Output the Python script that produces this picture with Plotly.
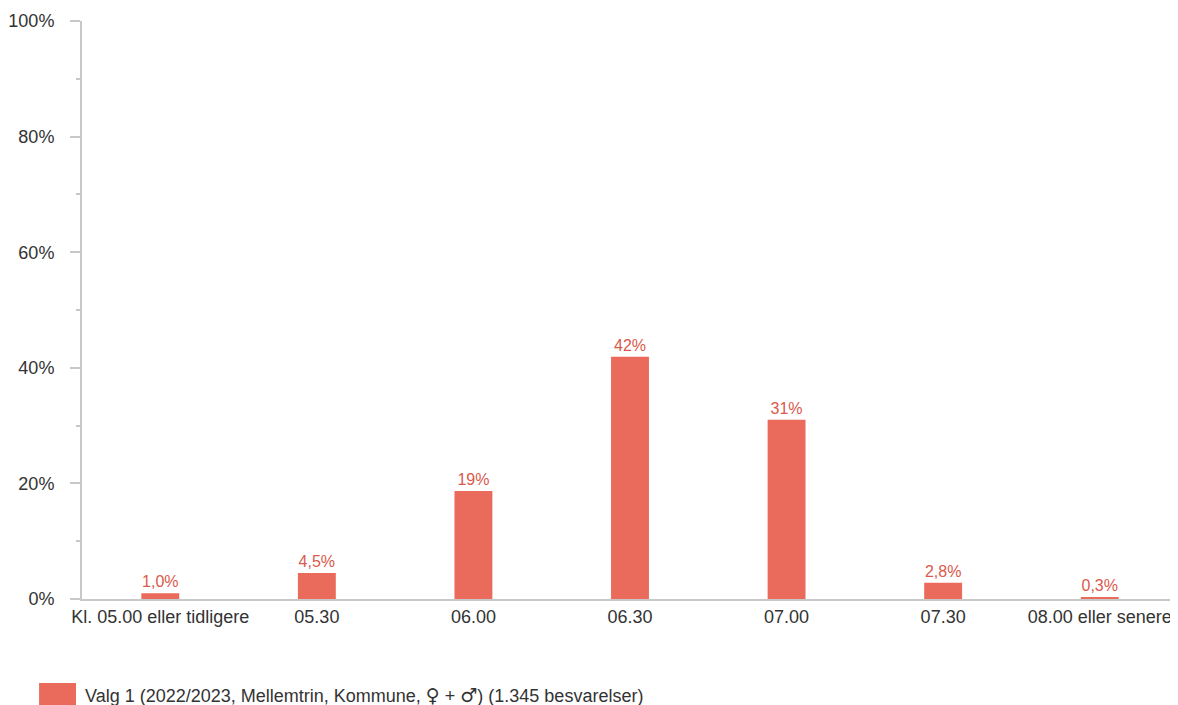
import plotly.graph_objects as go

categories = ["Kl. 05.00 eller tidligere", "05.30", "06.00", "06.30", "07.00", "07.30", "08.00 eller senere"]
values = [1.0, 4.5, 18.7, 41.9, 31.0, 2.8, 0.3]
labels = ["1,0%", "4,5%", "19%", "42%", "31%", "2,8%", "0,3%"]
series_name = "Valg 1 (2022/2023, Mellemtrin, Kommune, \u2640 + \u2642) (1.345 besvarelser)"

BAR = "#EA6A5C"
LABEL = "#D9594C"
AXIS = "#C8C8C8"
TEXT = "#333333"
FONT = "Liberation Sans, Arial, sans-serif"

# page body has an 8px margin; figure sized so the plot lands where the reference has it
OFF = 8
W, H = 1178 - OFF, 705 - OFF
L, R, T = 80 - OFF, 0, 21 - OFF
B = H - T - 578
pw, ph = W - L - R, H - T - B

def px(x):
    return (x - OFF - L) / pw

def py(y):
    return (H - B - (y - OFF)) / ph

def legend_markup(name):
    out = name
    for sym in ("\u2640", "\u2642"):
        out = out.replace(sym, '<span style="font-family:DejaVu Sans;font-size:19px">' + sym + "</span>")
    return out

fig = go.Figure()
fig.add_trace(go.Bar(
    x=categories, y=values, text=labels, name=series_name,
    textposition="outside", cliponaxis=False,
    textfont=dict(color=LABEL, size=16, family=FONT),
    marker=dict(color=BAR, line=dict(width=0)),
    width=0.242, showlegend=False,
))

fig.add_shape(type="rect", xref="paper", yref="paper",
              x0=px(37), x1=px(74), y0=py(683), y1=py(712),
              fillcolor=BAR, line=dict(width=0))
fig.add_annotation(xref="paper", yref="paper", x=px(81), y=py(695),
                   xanchor="left", yanchor="middle", showarrow=False,
                   text=legend_markup(series_name), font=dict(size=18, color=TEXT, family=FONT))

fig.update_layout(
    width=W, height=H,
    margin=dict(l=L, r=R, t=T, b=B, pad=0),
    paper_bgcolor="white", plot_bgcolor="white",
    font=dict(family=FONT, size=18, color=TEXT),
    xaxis=dict(type="category", range=[-0.5, 6.5], showline=True, linecolor=AXIS,
               linewidth=2, showgrid=False, ticks="", zeroline=False,
               tickfont=dict(size=18, color=TEXT, family=FONT)),
    yaxis=dict(range=[0, 100], dtick=20, ticksuffix="%", showline=True, linecolor=AXIS,
               linewidth=2, showgrid=False, zeroline=False,
               ticks="outside", ticklen=10, tickwidth=2, tickcolor=AXIS,
               ticklabelstandoff=12,
               minor=dict(dtick=10, ticks="outside", ticklen=4, tickwidth=2, tickcolor=AXIS, showgrid=False),
               tickfont=dict(size=18, color=TEXT, family=FONT)),
)

fig.write_html("out.html")
